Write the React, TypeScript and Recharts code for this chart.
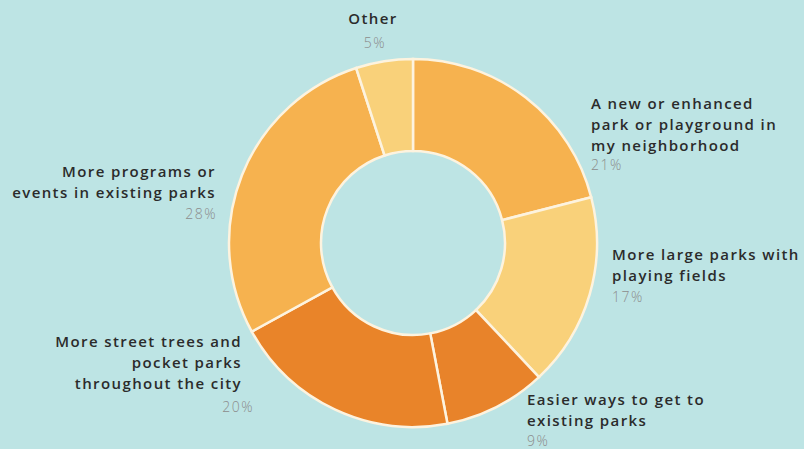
import { PieChart, Pie, Cell } from "recharts";

const categories = [
  "A new or enhanced park or playground in my neighborhood",
  "More large parks with playing fields",
  "Easier ways to get to existing parks",
  "More street trees and pocket parks throughout the city",
  "More programs or events in existing parks",
  "Other",
];
const shares = [21, 17, 9, 20, 28, 5];
const labelLines = [
  ["A new or enhanced", "park or playground in", "my neighborhood"],
  ["More large parks with", "playing fields"],
  ["Easier ways to get to", "existing parks"],
  ["More street trees and", "pocket parks", "throughout the city"],
  ["More programs or", "events in existing parks"],
  ["Other"],
];

const colors = ["#f6b24f", "#f9d17a", "#e8832a", "#e98429", "#f6b24f", "#f9d17a"];

// label placement relative to pie centre: [dx, dy of first line, anchor, pct dx, pct dy]
const labelPos: [number, number, "start" | "middle" | "end", number, number][] = [
  [178, -134, "start", 0, -1],
  [199, 17, "start", 0, 1],
  [114, 162, "start", 0, 0],
  [-171, 104, "end", 12, 3],
  [-197, -66, "end", 1, 1],
  [-40, -219, "middle", 2, 4],
];

const data = categories.map((name, i) => ({ name, value: shares[i] }));

const font = "'Open Sans', 'DejaVu Sans', sans-serif";

const renderLabel = (props: any) => {
  const { cx, cy, index, value } = props;
  const [dx, dy, anchor, pdx, pdy] = labelPos[index];
  const lines = labelLines[index];
  const x = cx + dx;
  const y = cy + dy;
  return (
    <g>
      <text
        x={x}
        y={y}
        textAnchor={anchor}
        fill="#2b2b2b"
        fontFamily={font}
        fontWeight={600}
        fontSize={15}
        letterSpacing={1.4}
      >
        {lines.map((l, i) => (
          <tspan key={i} x={x} dy={i === 0 ? 0 : 21}>
            {l}
          </tspan>
        ))}
      </text>
      <text
        x={x + pdx}
        y={y + lines.length * 21 - 1 + pdy}
        textAnchor={anchor}
        fill="#8c8c8c"
        fontFamily={font}
        fontWeight={300}
        fontSize={14}
        letterSpacing={1.5}
      >
        {value}%
      </text>
    </g>
  );
};

export default function App() {
  return (
    <div
      style={{
        position: "absolute",
        left: 0,
        top: 0,
        width: 804,
        height: 449,
        background: "#bde4e4",
        overflow: "hidden",
      }}
    >
      <PieChart width={804} height={449}>
        <Pie
          data={data}
          dataKey="value"
          cx={408}
          cy={238}
          innerRadius={92}
          outerRadius={184}
          startAngle={90}
          endAngle={-270}
          stroke="#fdf3df"
          strokeWidth={2.5}
          label={renderLabel}
          labelLine={false}
          isAnimationActive={false}
        >
          {data.map((entry, index) => (
            <Cell key={`cell-${index}`} fill={colors[index]} />
          ))}
        </Pie>
      </PieChart>
    </div>
  );
}
